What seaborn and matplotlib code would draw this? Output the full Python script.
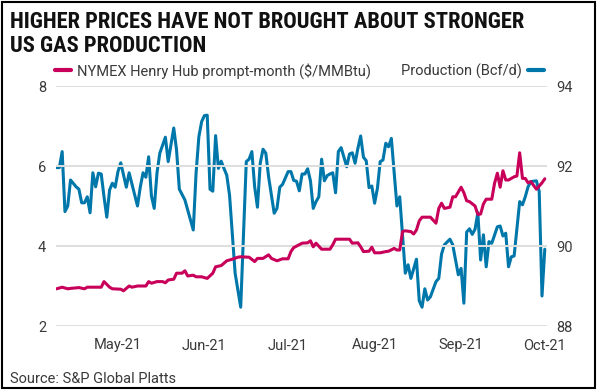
import matplotlib
matplotlib.use("Agg")
import matplotlib.pyplot as plt
import matplotlib.dates as mdates
from matplotlib import font_manager
from matplotlib.lines import Line2D
from matplotlib.patches import Rectangle
import pandas as pd
import seaborn as sns

PINK = "#C8005A"
BLUE = "#0077AA"
GRID = "#DEDEDE"
TEXT = "#3A3A3A"

TITLE = "HIGHER PRICES HAVE NOT BROUGHT ABOUT STRONGER\nUS GAS PRODUCTION"
SOURCE = "Source: S&P Global Platts"
PRICE_LABEL = "NYMEX Henry Hub prompt-month ($/MMBtu)"
PROD_LABEL = "Production (Bcf/d)"

price_dates = [
    "04-09", "04-11", "04-13", "04-14", "04-17", "04-19", "04-20", "04-23", "04-25", "04-26",
    "04-28", "04-29", "05-02", "05-03", "05-05", "05-06", "05-08", "05-11", "05-12", "05-13",
    "05-15", "05-17", "05-18", "05-19", "05-21", "05-22", "05-24", "05-25", "05-26", "05-28",
    "05-29", "05-31", "06-02", "06-04", "06-05", "06-07", "06-09", "06-11", "06-13", "06-14",
    "06-17", "06-19", "06-20", "06-22", "06-24", "06-25", "06-27", "06-29", "07-01", "07-02",
    "07-03", "07-06", "07-08", "07-09", "07-10", "07-11", "07-13", "07-16", "07-17", "07-18",
    "07-21", "07-23", "07-24", "07-26", "07-27", "07-28", "07-30", "07-31", "08-01", "08-03",
    "08-05", "08-06", "08-08", "08-09", "08-10", "08-11", "08-12", "08-14", "08-15", "08-16",
    "08-17", "08-18", "08-21", "08-23", "08-24", "08-25", "08-26", "08-28", "08-29", "08-30",
    "09-01", "09-02", "09-03", "09-04", "09-06", "09-07", "09-08", "09-09", "09-10", "09-12",
    "09-13", "09-14", "09-15", "09-16", "09-17", "09-18", "09-20", "09-21", "09-22", "09-23",
    "09-24", "09-25", "09-26", "09-28", "09-30", "10-01",
]
price_values = [
    2.93, 2.97, 2.93, 2.94, 2.96, 2.93, 2.97, 2.97, 2.97, 3.11,
    2.97, 2.93, 2.92, 2.88, 3.00, 2.97, 3.00, 3.00, 3.11, 3.07,
    3.11, 3.11, 3.08, 3.15, 3.17, 3.32, 3.32, 3.38, 3.25, 3.27,
    3.23, 3.23, 3.19, 3.32, 3.48, 3.51, 3.63, 3.67, 3.72, 3.73,
    3.72, 3.61, 3.69, 3.69, 3.78, 3.69, 3.63, 3.68, 3.68, 3.86,
    3.96, 4.07, 4.08, 4.13, 3.98, 4.07, 3.92, 3.92, 4.03, 4.17,
    4.17, 4.17, 4.07, 4.08, 3.98, 3.86, 3.87, 3.97, 3.83, 3.83,
    3.86, 3.87, 3.94, 3.90, 3.90, 4.36, 4.38, 4.36, 4.30, 4.40,
    4.63, 4.72, 4.72, 4.57, 4.94, 5.07, 4.94, 4.97, 5.23, 5.23,
    5.47, 5.33, 5.13, 5.11, 5.00, 4.79, 4.80, 5.05, 5.17, 5.17,
    5.57, 5.82, 5.47, 5.88, 5.65, 5.65, 5.73, 5.75, 6.33, 5.69,
    5.69, 5.58, 5.61, 5.42, 5.58, 5.68,
]

prod_dates = [
    "04-09", "04-10", "04-11", "04-12", "04-13", "04-14", "04-16", "04-17", "04-18", "04-19",
    "04-20", "04-21", "04-22", "04-23", "04-24", "04-25", "04-26", "04-27", "04-28", "04-29",
    "04-30", "05-01", "05-02", "05-04", "05-05", "05-08", "05-09", "05-10", "05-11", "05-12",
    "05-13", "05-14", "05-15", "05-16", "05-18", "05-19", "05-21", "05-22", "05-23", "05-25",
    "05-27", "05-28", "05-29", "05-30", "05-31", "06-01", "06-02", "06-03", "06-04", "06-05",
    "06-06", "06-07", "06-08", "06-09", "06-10", "06-12", "06-14", "06-16", "06-17", "06-18",
    "06-19", "06-20", "06-21", "06-22", "06-23", "06-24", "06-26", "06-27", "06-28", "06-29",
    "07-01", "07-02", "07-03", "07-04", "07-05", "07-06", "07-07", "07-08", "07-09", "07-10",
    "07-11", "07-12", "07-13", "07-14", "07-15", "07-16", "07-17", "07-18", "07-19", "07-20",
    "07-22", "07-23", "07-24", "07-25", "07-26", "07-27", "07-28", "07-29", "07-30", "07-31",
    "08-01", "08-02", "08-03", "08-04", "08-05", "08-06", "08-07", "08-09", "08-10", "08-12",
    "08-13", "08-14", "08-16", "08-17", "08-18", "08-19", "08-20", "08-21", "08-23", "08-24",
    "08-25", "08-26", "08-28", "08-29", "08-31", "09-01", "09-02", "09-03", "09-04", "09-05",
    "09-06", "09-07", "09-08", "09-09", "09-10", "09-11", "09-12", "09-14", "09-15", "09-16",
    "09-17", "09-18", "09-19", "09-20", "09-22", "09-23", "09-24", "09-25", "09-26", "09-28",
    "09-29", "09-30", "10-01",
]
prod_values = [
    91.96, 91.96, 92.36, 90.86, 91.00, 91.65, 91.48, 91.42, 91.08, 91.08,
    91.23, 90.83, 91.83, 91.48, 91.82, 91.80, 91.23, 90.72, 91.40, 91.57,
    91.47, 91.86, 92.08, 91.47, 91.83, 91.00, 91.47, 91.83, 91.72, 92.23,
    91.25, 90.94, 91.83, 92.32, 92.72, 92.11, 92.95, 92.40, 91.42, 91.15,
    90.65, 90.40, 91.82, 92.73, 93.11, 93.26, 93.27, 91.42, 91.37, 92.76,
    91.94, 92.12, 91.94, 91.77, 91.27, 89.32, 88.47, 92.11, 92.17, 92.36,
    91.48, 90.97, 92.07, 92.42, 92.32, 91.73, 90.82, 90.94, 91.47, 91.54,
    91.86, 91.86, 91.64, 91.62, 91.38, 91.80, 91.80, 91.93, 91.63, 90.94,
    91.11, 91.23, 92.17, 91.63, 91.76, 91.80, 91.83, 91.33, 92.36, 92.46,
    91.98, 92.30, 92.33, 92.07, 92.44, 92.75, 92.22, 92.13, 91.46, 91.50,
    91.07, 91.44, 92.11, 92.15, 92.57, 92.48, 92.69, 91.00, 91.23, 89.32,
    89.53, 89.19, 89.67, 88.63, 88.47, 88.93, 88.65, 88.73, 89.11, 89.19,
    89.80, 90.03, 90.17, 90.03, 89.28, 89.44, 88.57, 90.35, 90.43, 90.29,
    90.42, 90.83, 89.65, 90.28, 89.48, 90.11, 90.07, 90.48, 90.50, 90.25,
    90.32, 89.48, 89.73, 89.75, 91.11, 91.03, 91.23, 91.48, 91.61, 91.63,
    91.36, 88.75, 89.92,
]

price = pd.DataFrame({"date": pd.to_datetime(["2021-" + d for d in price_dates]),
                      "value": price_values})
prod = pd.DataFrame({"date": pd.to_datetime(["2021-" + d for d in prod_dates]),
                     "value": prod_values})

sns.set_style("white")
plt.rcParams["font.family"] = ["Roboto", "DejaVu Sans"]

# condensed face if there is one, else plain Roboto sized to the same width
try:
    font_manager.findfont("Roboto Condensed", fallback_to_default=False)
    title_family, title_size = ["Roboto Condensed", "Roboto"], 16.2
except ValueError:
    title_family, title_size = ["Roboto", "DejaVu Sans"], 13.6

fig = plt.figure(figsize=(5.97, 3.90), dpi=100)
ax = fig.add_axes([56 / 597, 1 - 326 / 390, 491 / 597, 240 / 390])
ax2 = ax.twinx()

sns.lineplot(data=prod, x="date", y="value", ax=ax2, color=BLUE, linewidth=2.2)
sns.lineplot(data=price, x="date", y="value", ax=ax, color=PINK, linewidth=2.2)
ax.set_zorder(ax2.get_zorder() + 1)
ax.patch.set_visible(False)

ax.set_ylim(2, 8)
ax2.set_ylim(88, 94)
ax.set_yticks([2, 4, 6, 8])
ax2.set_yticks([88, 90, 92, 94])
ax.set_xlim(pd.Timestamp("2021-04-08 19:00"), pd.Timestamp("2021-10-01 19:00"))
ax.xaxis.set_major_locator(mdates.MonthLocator(bymonth=range(5, 11)))
ax.xaxis.set_major_formatter(mdates.DateFormatter("%b-%y"))

ax2.grid(False)
ax.grid(axis="y", color=GRID, linewidth=1.4)
ax.grid(axis="x", visible=False)
for a in (ax, ax2):
    for s in a.spines.values():
        s.set_visible(False)
    a.set_xlabel("")
    a.set_ylabel("")
ax.tick_params(axis="y", length=0, pad=7, labelsize=10.5, labelcolor=TEXT)
ax2.tick_params(axis="y", length=0, pad=7, labelsize=10.5, labelcolor=TEXT)
ax.tick_params(axis="x", length=0, pad=9, labelsize=10.5, labelcolor=TEXT)

fig.text(10 / 597, 1 - 11 / 390, TITLE, ha="left", va="top", fontsize=title_size,
         fontweight="bold", color="#111111", linespacing=1.12, family=title_family)
fig.text(10 / 597, 1 - 383 / 390, SOURCE, ha="left", va="baseline",
         fontsize=10.5, color=TEXT)

h1 = Line2D([], [], color=PINK, linewidth=3)
h2 = Line2D([], [], color=BLUE, linewidth=3)
fig.legend(handles=[h1], labels=[PRICE_LABEL], loc="center left",
           bbox_to_anchor=(55 / 597, 1 - 71 / 390), frameon=False,
           handlelength=1.1, handletextpad=0.4, borderpad=0, borderaxespad=0,
           prop={"size": 10.5}, labelcolor=TEXT)
fig.legend(handles=[h2], labels=[PROD_LABEL], loc="center right",
           bbox_to_anchor=(544 / 597, 1 - 71 / 390), frameon=False,
           handlelength=1.1, handletextpad=0.4, borderpad=0, borderaxespad=0,
           markerfirst=False, prop={"size": 10.5}, labelcolor=TEXT)

fig.patches.append(Rectangle((0.003, 0.004), 0.994, 0.992, transform=fig.transFigure,
                             fill=False, edgecolor="black", linewidth=1.5))

fig.savefig("out.png", dpi=100)
